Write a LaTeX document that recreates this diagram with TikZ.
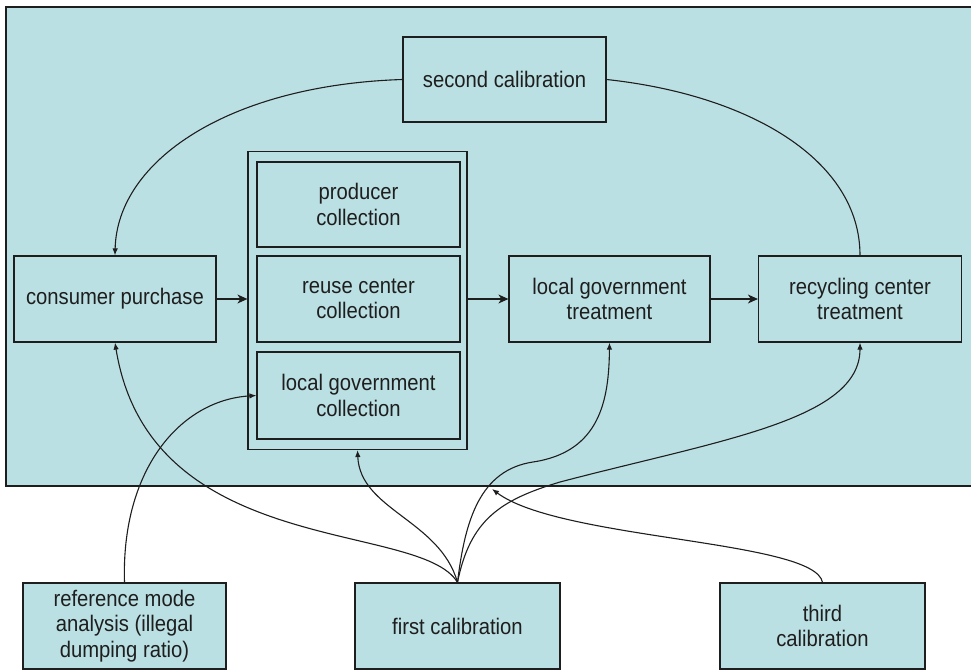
\documentclass[tikz,border=0pt]{standalone}
\usepackage{fontspec}
\setmainfont[FakeStretch=0.9]{Liberation Sans}
\usetikzlibrary{arrows.meta}
\definecolor{bgteal}{RGB}{187,224,227}
\definecolor{ink}{RGB}{30,30,30}
\tikzset{
  box/.style={draw=ink, line width=1.2pt, fill=bgteal, rectangle, inner sep=0pt, align=center,
    font=\fontsize{22.5}{25.5}\selectfont, text=ink},
  frame/.style={draw=ink, line width=1.2pt, rectangle, inner sep=0pt},
  conn/.style={draw=ink, line width=1.1pt},
  harrow/.style={conn, -{Stealth[length=10pt,width=9pt,inset=3pt]}},
  carrow/.style={conn, -{Latex[length=7pt,width=5.5pt]}}
}
\begin{document}
\begin{tikzpicture}[x=1pt,y=-1pt]
\useasboundingbox (0,0) rectangle (971,669);
% background panel
\fill[white] (0,0) rectangle (971,669);
\draw[draw=ink, line width=1.4pt, fill=bgteal] (6,7) rectangle (985,486);

% nodes
\node[box, minimum width=203pt, minimum height=85pt] (sec) at (504.5,79.5) {second calibration};
\node[frame, minimum width=219pt, minimum height=298pt] (cont) at (357.5,300.5) {};
\node[box, minimum width=203pt, minimum height=85pt] (prod) at (358.5,204.5) {producer\\collection};
\node[box, minimum width=203pt, minimum height=86pt] (reuse) at (358.5,299) {reuse center\\collection};
\node[box, minimum width=203pt, minimum height=87pt] (lgc) at (358.5,395.5) {local government\\collection};
\node[box, minimum width=202pt, minimum height=86pt] (cons) at (115,299) {consumer purchase};
\node[box, minimum width=201pt, minimum height=86pt] (lgt) at (609.5,299) {local government\\treatment};
\node[box, minimum width=203pt, minimum height=86pt] (rct) at (860,299) {recycling center\\treatment};
\node[box, minimum width=203pt, minimum height=86pt] (ref) at (124.5,626) {reference mode\\analysis (illegal\\dumping ratio)};
\node[box, minimum width=205pt, minimum height=86pt] (first) at (457.5,626) {first calibration};
\node[box, minimum width=205pt, minimum height=86pt] (third) at (822.5,626) {third\\calibration};
\coordinate (tip) at (492,489);

% horizontal flow
\draw[harrow] (cons.east) -- (cont.west |- cons.east);
\draw[harrow] (cont.east |- lgt.west) -- (lgt.west);
\draw[harrow] (lgt.east) -- (rct.west);

% second calibration loops
\draw[carrow] (sec.west) .. controls (230,85) and (117,160) .. (cons.north);
\draw[conn] (sec.east) .. controls (750,95) and (860,160) .. (rct.north);

% reference mode
\draw[carrow] (ref.north) .. controls (121,470) and (180,400) .. (lgc.west);

% first calibration
\draw[carrow] (first.north) .. controls (420,520) and (150,560) .. (cons.south);
\draw[carrow] (first.north) .. controls (440,520) and (360,510) .. (cont.south);
\draw[carrow] (first.north) .. controls (465,520) and (480,470) .. (533,462)
   .. controls (600,452) and (609,400) .. (lgt.south);
\draw[carrow] (first.north) .. controls (470,520) and (500,500) .. (560,482)
   .. controls (720,440) and (860,420) .. (rct.south);

% third calibration
\draw[carrow] (third.north) .. controls (815,540) and (560,540) .. (tip);
\end{tikzpicture}
\end{document}
